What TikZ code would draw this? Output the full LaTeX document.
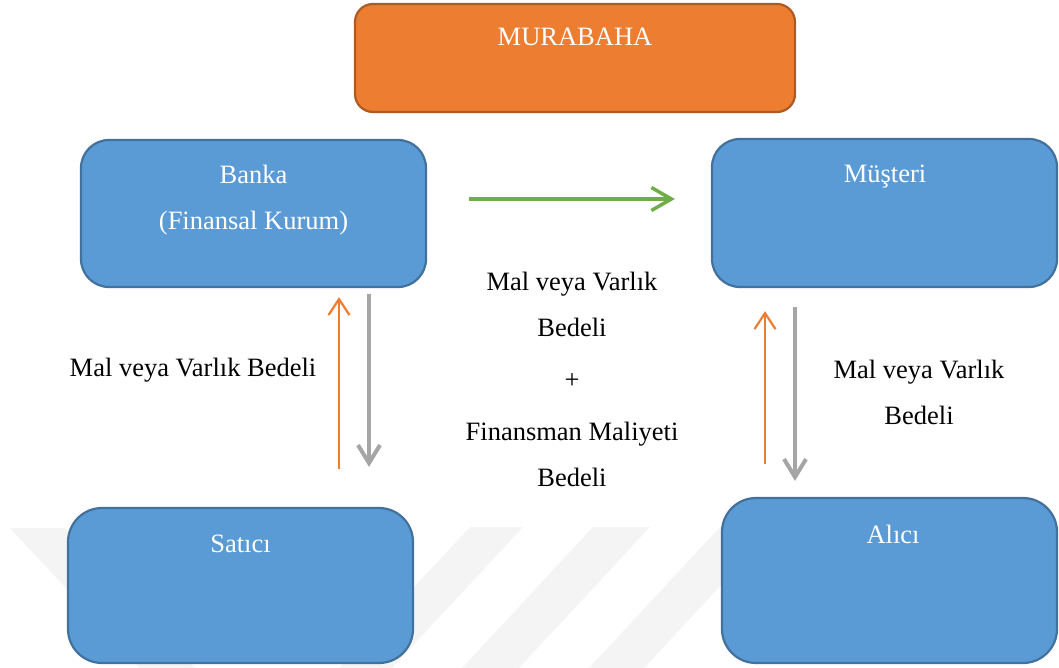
\documentclass[tikz,border=0pt]{standalone}
\usepackage{fontspec}
\setmainfont{Liberation Serif}
\usetikzlibrary{arrows.meta}

\definecolor{boxblue}{HTML}{5B9BD5}
\definecolor{boxblueedge}{HTML}{41719C}
\definecolor{boxorange}{HTML}{ED7D31}
\definecolor{boxorangeedge}{HTML}{AE5A21}
\definecolor{flowgreen}{HTML}{70AD47}
\definecolor{flowgray}{HTML}{A5A5A5}
\definecolor{markgray}{HTML}{F4F4F4}

\tikzset{
  bluebox/.style={draw=boxblueedge, fill=boxblue, line width=2.2pt, inner sep=0pt},
  titlebox/.style={draw=boxorangeedge, fill=boxorange, line width=2.2pt, inner sep=0pt, rounded corners=18pt},
  boxtext/.style={text=white, font=\fontsize{26.5}{46}\selectfont, align=center, inner sep=0pt},
  flowtext/.style={text=black, font=\fontsize{26.5}{46}\selectfont, align=center, inner sep=0pt},
  greenflow/.style={draw=flowgreen, line width=3.5pt, -{Straight Barb[length=20pt, width=23pt, line width=3.5pt]}},
  orangeflow/.style={draw=boxorange, line width=2.2pt, -{Straight Barb[length=16pt, width=21pt, line width=2.2pt]}},
  grayflow/.style={draw=flowgray, line width=4pt, -{Straight Barb[length=18pt, width=22pt, line width=4pt]}}
}

\begin{document}
\begin{tikzpicture}[x=1pt, y=-1pt]
  \useasboundingbox (0,0) rectangle (1059,668);

  % faint diagonal stripes in the background
  \fill[markgray] (10,528) -- (65,528) -- (195,668) -- (140,668) -- cycle;
  \fill[markgray] (470,527) -- (523,527) -- (392,668) -- (339,668) -- cycle;
  \fill[markgray] (593,527) -- (650,527) -- (519,668) -- (462,668) -- cycle;
  \fill[markgray] (720,527) -- (775,527) -- (644,668) -- (589,668) -- cycle;

  % boxes
  \node[titlebox, minimum width=440pt, minimum height=108pt] (murabaha) at (575,58) {};
  \node[bluebox, rounded corners=28pt, minimum width=345pt, minimum height=147pt] (banka) at (253.5,213.5) {};
  \node[bluebox, rounded corners=28pt, minimum width=345pt, minimum height=148pt] (musteri) at (884.5,213) {};
  \node[bluebox, rounded corners=34pt, minimum width=345pt, minimum height=155pt] (satici) at (240.5,585.5) {};
  \node[bluebox, rounded corners=34pt, minimum width=335pt, minimum height=165pt] (alici) at (889.5,580.5) {};

  % box titles
  \node[boxtext] (murabahatext) at (575,37) {MURABAHA};
  \node[boxtext] (bankatext) at (253.5,200) {Banka\\(Finansal Kurum)};
  \node[boxtext] (musteritext) at (885,177) {Müşteri};
  \node[boxtext] (saticitext) at (240.5,544) {Satıcı};
  \node[boxtext] (alicitext) at (893,534) {Alıcı};

  % flows
  \draw[greenflow] ([xshift=42pt, yshift=14.5pt]banka.east) -- ([xshift=-36pt, yshift=14pt]musteri.west);
  \draw[orangeflow] ([xshift=98.5pt, yshift=38pt]satici.north) -- ([xshift=85.5pt, yshift=-9pt]banka.south);
  \draw[grayflow] ([xshift=115.5pt, yshift=-6pt]banka.south) -- ([xshift=128.5pt, yshift=40pt]satici.north);
  \draw[orangeflow] ([xshift=-124.5pt, yshift=33pt]alici.north) -- ([xshift=-119.5pt, yshift=-23pt]musteri.south);
  \draw[grayflow] ([xshift=-89.5pt, yshift=-19pt]musteri.south) -- ([xshift=-94.5pt, yshift=16pt]alici.north);

  % flow labels
  \node[flowtext] (leftlabel) at (193,370) {Mal veya Varlık Bedeli};
  \node[flowtext] (midlabel) at (572,379) {Mal veya Varlık\\Bedeli\\[6pt]+\\[6pt]Finansman Maliyeti\\Bedeli};
  \node[flowtext] (rightlabel) at (919,392) {Mal veya Varlık\\Bedeli};
\end{tikzpicture}
\end{document}
